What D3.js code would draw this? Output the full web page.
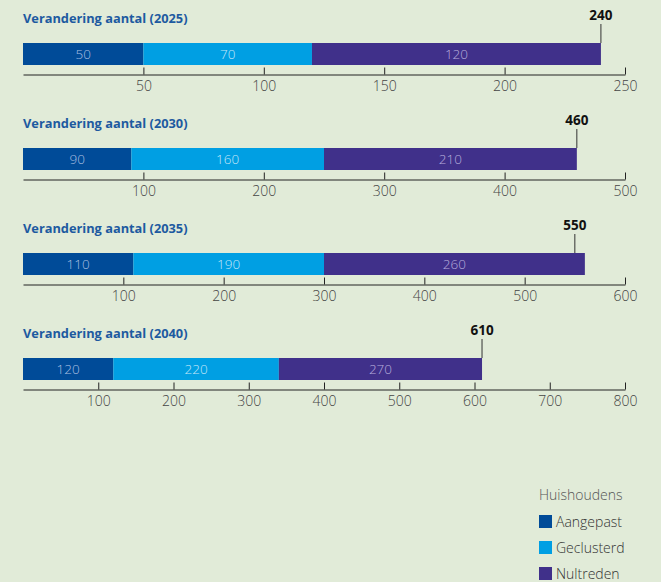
<!DOCTYPE html>
<html><head><meta charset="utf-8">
<script src="https://cdn.jsdelivr.net/npm/d3@7"></script>
<style>
html,body{margin:0;padding:0;background:#e1ebd8;}
svg{display:block;font-family:"Open Sans",sans-serif;}
</style></head>
<body>
<svg id="c" width="661" height="582"></svg>
<script>
const years = ["2025", "2030", "2035", "2040"];
const aangepast = [50, 90, 110, 120];
const geclusterd = [70, 160, 190, 220];
const nultreden = [120, 210, 260, 270];
const totals = [240, 460, 550, 610];
const axisMax = [250, 500, 600, 800];
const tickStep = [50, 100, 100, 100];
const seriesNames = ["Aangepast", "Geclusterd", "Nultreden"];
const colors = ["#004b98", "#009fe3", "#40308a"];
const labelColors = ["#a9bfe0", "#c4e6f8", "#b6acdc"];
const legendTitle = "Huishoudens";

const svg = d3.select("#c");
svg.append("rect").attr("width",661).attr("height",582).attr("fill","#e1ebd8");

const series = [aangepast, geclusterd, nultreden];
const panelH = 105;

years.forEach((yr, i) => {
  const g = svg.append("g").attr("transform", `translate(0,${i*panelH})`);
  const x = d3.scaleLinear().domain([0, axisMax[i]]).range([23, 625]);
  g.append("text").attr("x",23).attr("y",23)
    .attr("fill","#1d5aa0").attr("font-weight","bold").attr("font-size",12.8)
    .text(`Verandering aantal (${yr})`);
  let cum = 0;
  const segs = series.map((s, k) => { const d = {k, v: s[i], x0: cum, x1: cum + s[i]}; cum += s[i]; return d; });
  g.selectAll("rect.seg").data(segs).enter().append("rect")
    .attr("x", d => x(d.x0)).attr("width", d => x(d.x1) - x(d.x0))
    .attr("y", 43).attr("height", 22).attr("fill", d => colors[d.k]);
  g.selectAll("text.seg").data(segs).enter().append("text")
    .attr("x", d => (x(d.x0) + x(d.x1))/2).attr("y", 59)
    .attr("text-anchor","middle").attr("font-size",13.5).attr("font-weight",300).attr("fill", d => labelColors[d.k])
    .text(d => d.v);
  // total marker
  g.append("line").attr("x1", x(totals[i])).attr("x2", x(totals[i]))
    .attr("y1", 24).attr("y2", 43).attr("stroke","#333").attr("stroke-width",1);
  g.append("text").attr("x", x(totals[i])).attr("y", 20).attr("text-anchor","middle")
    .attr("font-weight","bold").attr("font-size",13.5).attr("fill","#111").text(totals[i]);
  // axis
  const tv = d3.range(tickStep[i], axisMax[i] + 1, tickStep[i]);
  const ax = d3.axisBottom(x).tickValues(tv).tickSizeInner(-7).tickSizeOuter(0).tickPadding(6);
  const ag = g.append("g").attr("transform","translate(0,74.5)").call(ax);
  ag.select(".domain").attr("stroke","#222");
  ag.selectAll(".tick line").attr("stroke","#222");
  ag.selectAll(".tick text").attr("fill","#444").attr("font-size",14).attr("font-weight",300).attr("font-family","'Open Sans',sans-serif").attr("dy","0.75em");
});

// legend
const lg = svg.append("g");
lg.append("text").attr("x",539).attr("y",500).attr("font-size",14).attr("font-weight",300).attr("fill","#555").text(legendTitle);
seriesNames.forEach((n, k) => {
  lg.append("rect").attr("x",539).attr("y",515 + k*26).attr("width",13).attr("height",13).attr("fill",colors[k]);
  lg.append("text").attr("x",556).attr("y",527 + k*26).attr("font-size",14).attr("font-weight",300).attr("fill","#333").text(n);
});
</script>
</body></html>
